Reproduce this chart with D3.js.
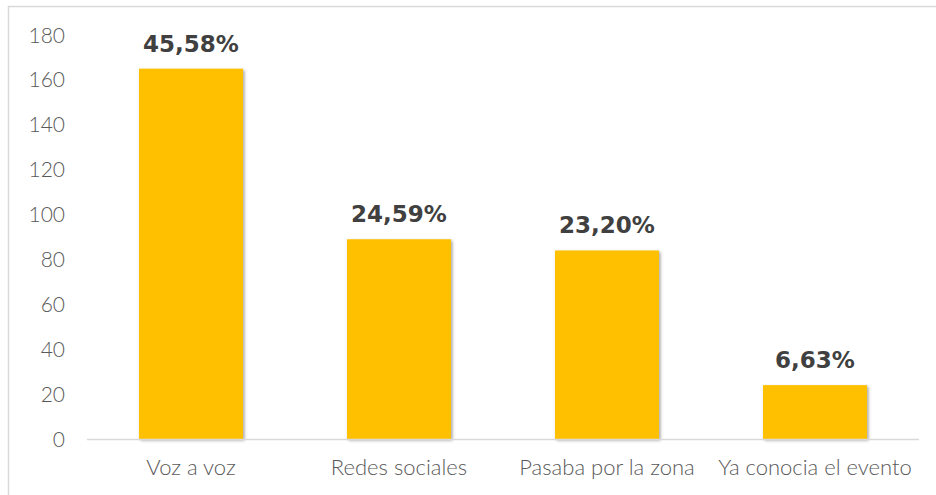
<!DOCTYPE html>
<html>
<head>
<meta charset="utf-8">
<script src="https://cdn.jsdelivr.net/npm/d3@7"></script>
<style>
  body { margin: 0; background: #fff; }
  .tick-label { font-family: "Lato", "Open Sans", sans-serif; font-weight: 300; fill: #595959; }
  .data-label { font-family: "DejaVu Sans", sans-serif; font-weight: bold; fill: #404040; }
</style>
</head>
<body>
<div id="chart"></div>
<script>
// data
var categories = ["Voz a voz", "Redes sociales", "Pasaba por la zona", "Ya conocia el evento"];
var values = [165, 89, 84, 24];
var pct_labels = ["45,58%", "24,59%", "23,20%", "6,63%"];
var y_ticks = [0, 20, 40, 60, 80, 100, 120, 140, 160, 180];

var w = 936, h = 495;
var marges = {left: 87, right: 17, top: 35, bottom: 56};
var graf_w = w - marges.left - marges.right;
var graf_h = h - marges.top - marges.bottom;

var root = d3.select("#chart").append("svg")
    .attr("width", w)
    .attr("height", h);

// outer frame (cropped on right and bottom)
root.append("rect")
    .attr("x", 8.5).attr("y", 6.5)
    .attr("width", w).attr("height", h)
    .attr("fill", "none")
    .attr("stroke", "#d9d9d9")
    .attr("stroke-width", 1.5);

var defs = root.append("defs");
var f = defs.append("filter").attr("id", "shadow")
    .attr("x", "-10%").attr("y", "-10%").attr("width", "130%").attr("height", "130%");
f.append("feDropShadow")
    .attr("dx", 1.5).attr("dy", 1.5)
    .attr("stdDeviation", 1.5)
    .attr("flood-color", "#000")
    .attr("flood-opacity", 0.35);

var svg = root.append("g")
    .attr("transform", "translate(" + marges.left + "," + marges.top + ")");

var x = d3.scaleBand()
    .domain(categories)
    .range([0, graf_w])
    .paddingInner(0.5)
    .paddingOuter(0.25);

var y = d3.scaleLinear()
    .domain([0, 180])
    .range([graf_h, 0]);

// y tick labels
svg.append("g")
  .selectAll("text")
  .data(y_ticks)
  .enter().append("text")
    .attr("class", "tick-label")
    .attr("x", -22)
    .attr("y", function(d) { return y(d); })
    .attr("dy", "0.36em")
    .attr("text-anchor", "end")
    .style("font-size", "21px")
    .text(function(d) { return d; });

// bars
svg.append("g")
  .selectAll("rect")
  .data(values)
  .enter().append("rect")
    .attr("x", function(d, i) { return x(categories[i]); })
    .attr("y", function(d) { return y(d); })
    .attr("width", x.bandwidth())
    .attr("height", function(d) { return graf_h - y(d); })
    .attr("fill", "#ffc000")
    .attr("filter", "url(#shadow)");

// baseline
svg.append("line")
    .attr("x1", 0).attr("x2", graf_w)
    .attr("y1", y(0) + 0.5).attr("y2", y(0) + 0.5)
    .attr("stroke", "#d9d9d9")
    .attr("stroke-width", 1.5);

// category labels
svg.append("g")
  .selectAll("text")
  .data(categories)
  .enter().append("text")
    .attr("class", "tick-label")
    .attr("x", function(d) { return x(d) + x.bandwidth() / 2; })
    .attr("y", graf_h + 36)
    .attr("text-anchor", "middle")
    .style("font-size", "22px")
    .text(function(d) { return d; });

// data labels
svg.append("g")
  .selectAll("text")
  .data(values)
  .enter().append("text")
    .attr("class", "data-label")
    .attr("x", function(d, i) { return x(categories[i]) + x.bandwidth() / 2; })
    .attr("y", function(d) { return y(d) - 17; })
    .attr("text-anchor", "middle")
    .style("font-size", "23px")
    .text(function(d, i) { return pct_labels[i]; });
</script>
</body>
</html>
